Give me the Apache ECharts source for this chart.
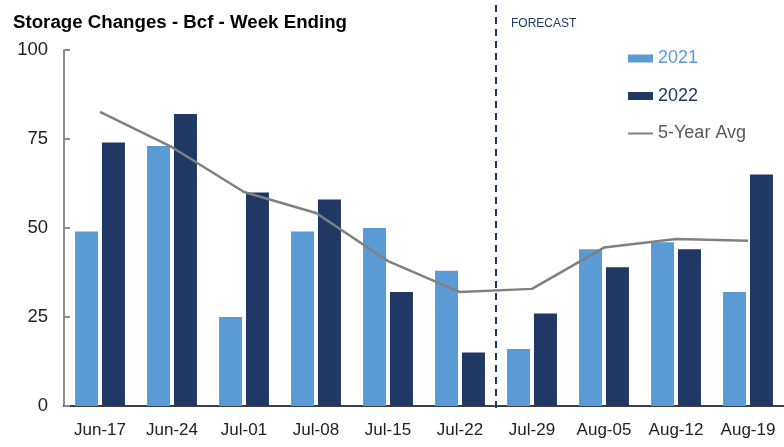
<!DOCTYPE html>
<html><head><meta charset="utf-8">
<script src="https://cdn.jsdelivr.net/npm/echarts@6/dist/echarts.min.js"></script>
<style>html,body{margin:0;padding:0;background:#fff}#c{width:784px;height:447px}</style>
</head><body><div id="c"></div>
<script>
const categories = ['Jun-17','Jun-24','Jul-01','Jul-08','Jul-15','Jul-22','Jul-29','Aug-05','Aug-12','Aug-19'];
const values2021 = [49, 73, 25, 49, 50, 38, 16, 44, 46, 32];
const values2022 = [74, 82, 60, 58, 32, 15, 26, 39, 44, 65];
const fiveYearAvg = [82.6, 72.7, 60.1, 54.2, 40.7, 32.0, 32.9, 44.5, 46.9, 46.4];
const yTicks = [0, 25, 50, 75, 100];
const forecastStartIndex = 6;

const chart = echarts.init(document.getElementById('c'));
const font = 'Liberation Sans, Arial, sans-serif';
chart.setOption({
  animation: false,
  textStyle: { fontFamily: font },
  title: {
    text: 'Storage Changes - Bcf - Week Ending',
    left: 8, top: 8,
    textStyle: { fontSize: 18.7, fontWeight: 'bold', color: '#000', fontFamily: font }
  },
  graphic: [{
    type: 'text', left: 511, top: 18,
    style: { text: 'FORECAST', fontSize: 12, fill: '#1f3864', fontFamily: font }
  }],
  legend: {
    orient: 'vertical', left: 622, top: 43,
    itemWidth: 25, itemHeight: 8, itemGap: 16.5,
    textStyle: { fontSize: 18, lineHeight: 21, fontFamily: font },
    data: [
      { name: '2021', icon: 'rect', textStyle: { color: '#5b9bd5' } },
      { name: '2022', icon: 'rect', textStyle: { color: '#1f3864' } },
      { name: '5-Year Avg', itemStyle: { opacity: 0 }, textStyle: { color: '#595959' } }
    ]
  },
  grid: [
    { left: 64, right: 0, top: 50, bottom: 41 },
    { left: 64, right: 0, top: 0, bottom: 39 }
  ],
  xAxis: [
    {
      type: 'category', data: categories, gridIndex: 0,
      axisLine: { lineStyle: { color: '#000', width: 1.5 } },
      axisTick: { show: false },
      axisLabel: { fontSize: 17, color: '#222', margin: 16, interval: 0 }
    },
    { type: 'value', gridIndex: 1, min: 0, max: categories.length, show: false }
  ],
  yAxis: [
    {
      type: 'value', gridIndex: 0, min: yTicks[0], max: yTicks[yTicks.length - 1], interval: 25,
      axisLine: { show: true, lineStyle: { color: '#8c8c8c', width: 2 } },
      axisTick: { show: true, inside: true, length: 6, lineStyle: { color: '#8c8c8c', width: 2 } },
      splitLine: { show: false },
      axisLabel: { fontSize: 18.5, color: '#222', margin: 16 }
    },
    { type: 'value', gridIndex: 1, min: 0, max: 1, show: false }
  ],
  series: [
    {
      name: '2021', type: 'bar', data: values2021,
      itemStyle: { color: '#5b9bd5' }, barWidth: 23, barGap: '17%'
    },
    {
      name: '2022', type: 'bar', data: values2022,
      itemStyle: { color: '#1f3864' }, barWidth: 23, barGap: '17%'
    },
    {
      name: '5-Year Avg', type: 'line', data: fiveYearAvg, symbol: 'none',
      lineStyle: { color: '#808080', width: 2.5 }, itemStyle: { color: '#808080' }, z: 5
    },
    {
      name: 'forecast', type: 'line', xAxisIndex: 1, yAxisIndex: 1, data: [], symbol: 'none',
      markLine: {
        silent: true, symbol: 'none', label: { show: false },
        lineStyle: { color: '#1f3864', type: [7, 5], width: 2 },
        data: [{ xAxis: forecastStartIndex }]
      }
    }
  ]
});
</script></body></html>
